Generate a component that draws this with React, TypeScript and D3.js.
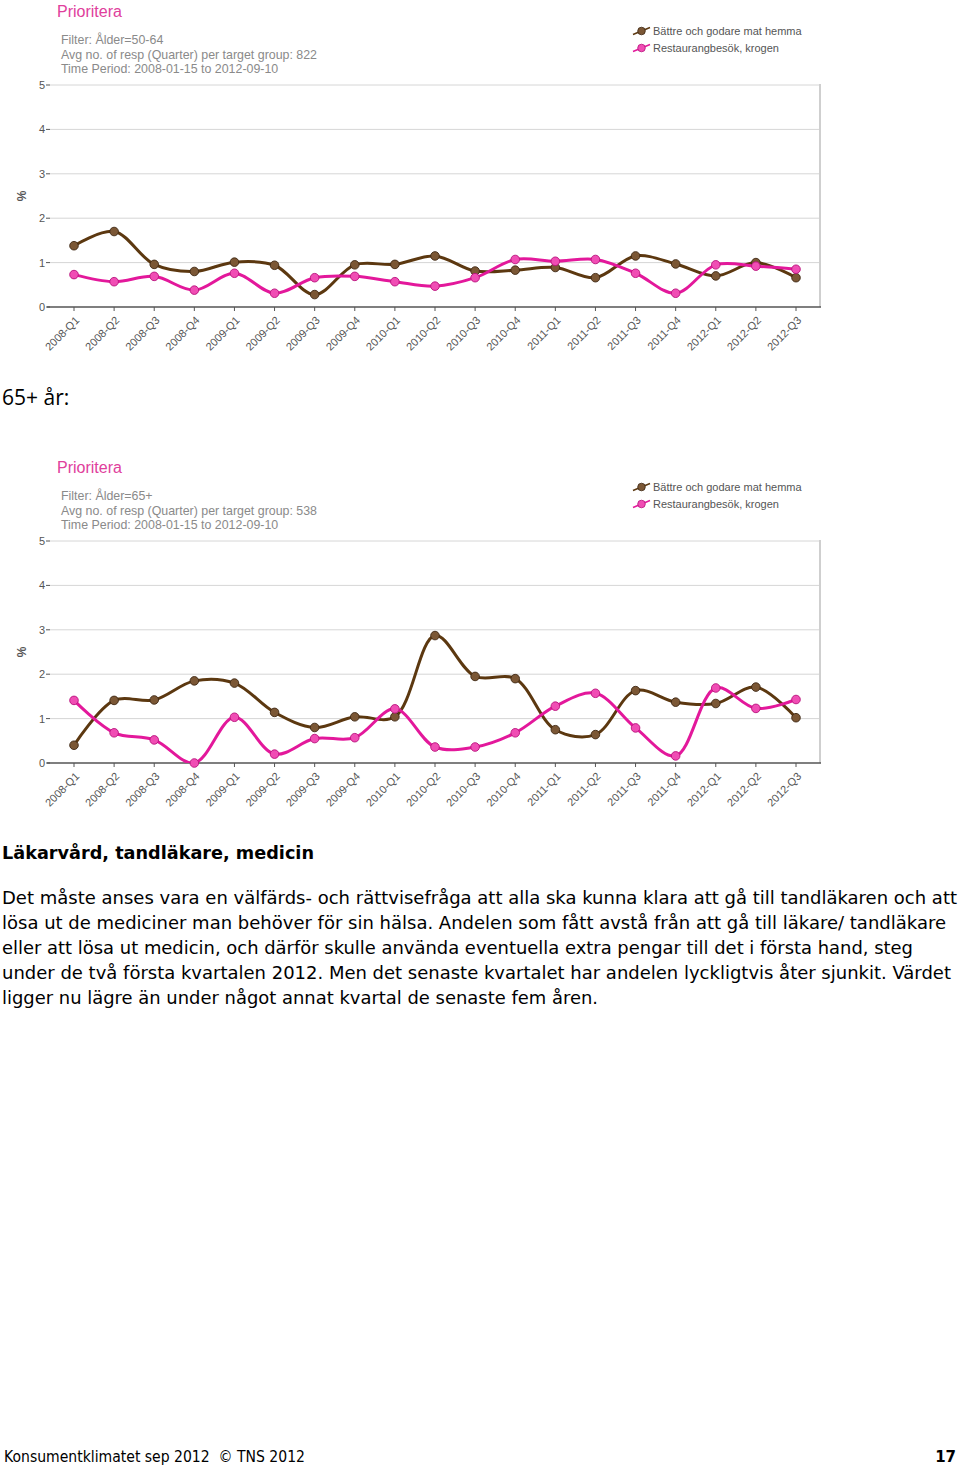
import React from 'react';
import * as d3 from 'd3';

const quarters = [
  '2008-Q1', '2008-Q2', '2008-Q3', '2008-Q4',
  '2009-Q1', '2009-Q2', '2009-Q3', '2009-Q4',
  '2010-Q1', '2010-Q2', '2010-Q3', '2010-Q4',
  '2011-Q1', '2011-Q2', '2011-Q3', '2011-Q4',
  '2012-Q1', '2012-Q2', '2012-Q3',
];
const yTicks = [0, 1, 2, 3, 4, 5];
const seriesNames = ['Bättre och godare mat hemma', 'Restaurangbesök, krogen'];

const betterFood5064 = [1.38, 1.70, 0.96, 0.80, 1.01, 0.94, 0.28, 0.95, 0.96, 1.15, 0.81, 0.83, 0.89, 0.66, 1.15, 0.97, 0.70, 1.00, 0.66];
const restaurant5064 = [0.73, 0.57, 0.69, 0.38, 0.76, 0.31, 0.66, 0.69, 0.57, 0.47, 0.66, 1.07, 1.03, 1.07, 0.76, 0.31, 0.95, 0.92, 0.85];
const betterFood65 = [0.40, 1.41, 1.42, 1.85, 1.80, 1.14, 0.80, 1.04, 1.04, 2.87, 1.95, 1.90, 0.75, 0.64, 1.63, 1.37, 1.34, 1.71, 1.02];
const restaurant65 = [1.41, 0.68, 0.52, 0.0, 1.03, 0.20, 0.55, 0.57, 1.22, 0.36, 0.36, 0.68, 1.28, 1.57, 0.79, 0.16, 1.69, 1.23, 1.43];

const bodyLines = [
  'Det måste anses vara en välfärds- och rättvisefråga att alla ska kunna klara att gå till tandläkaren och att',
  'lösa ut de mediciner man behöver för sin hälsa. Andelen som fått avstå från att gå till läkare/ tandläkare',
  'eller att lösa ut medicin, och därför skulle använda eventuella extra pengar till det i första hand, steg',
  'under de två första kvartalen 2012. Men det senaste kvartalet har andelen lyckligtvis åter sjunkit. Värdet',
  'ligger nu lägre än under något annat kvartal de senaste fem åren.',
];
const bodyWidths = [955, 944, 911, 949, 596];

const COLORS = [
  { line: '#5c3810', fill: '#7b5735', stroke: '#3e2814' },
  { line: '#e3189b', fill: '#f04db4', stroke: '#b8127c' },
];

const AX = "'Liberation Sans', Arial, sans-serif";

function Chart({ dy, filter, resp, brown, pink, id }: any) {
  const x = d3.scalePoint<string>().domain(quarters).range([74, 796]);
  const y = d3.scaleLinear().domain([0, 5]).range([307 + dy, 85 + dy]);
  const line = d3
    .line<number>()
    .x((_, i) => x(quarters[i]) as number)
    .y((d) => y(d))
    .curve(d3.curveCatmullRom.alpha(0.5));
  const series = [brown, pink];
  const y0 = y(0);
  const y5 = y(5);
  return (
    <g>
      <defs>
        <clipPath id={id}>
          <rect x={50} y={y5} width={770} height={y0 - y5} />
        </clipPath>
      </defs>
      <text x={57} y={dy + 17} fill="#e0409c" fontSize={16} fontFamily={AX}>Prioritera</text>
      <text x={61} y={dy + 44} fill="#8a8a8a" fontSize={12.4} fontFamily={AX}>{filter}</text>
      <text x={61} y={dy + 59} fill="#8a8a8a" fontSize={12.4} fontFamily={AX}>{resp}</text>
      <text x={61} y={dy + 73} fill="#8a8a8a" fontSize={12.4} fontFamily={AX}>Time Period: 2008-01-15 to 2012-09-10</text>
      {seriesNames.map((n, i) => {
        const c = dy + 31 + 17 * i;
        return (
          <g key={n}>
            <line x1={633} y1={c + 3.5} x2={650} y2={c - 3.5} stroke={COLORS[i].line} strokeWidth={1.5} />
            <circle cx={641.5} cy={c} r={3.8} fill={COLORS[i].fill} stroke={COLORS[i].stroke} strokeWidth={0.8} />
            <text x={653} y={c + 4} fill="#555" fontSize={11} fontFamily={AX}>{n}</text>
          </g>
        );
      })}
      {yTicks.filter((t) => t > 0).map((t) => (
        <line key={t} x1={50} x2={820} y1={y(t)} y2={y(t)} stroke="#d6d6d6" strokeWidth={1} />
      ))}
      <line x1={820} x2={820} y1={y5 - 1} y2={y0} stroke="#cfcfcf" strokeWidth={2} />
      <line x1={47} x2={821} y1={y0} y2={y0} stroke="#555" strokeWidth={1.5} />
      {yTicks.map((t) => (
        <g key={t}>
          <text x={45} y={y(t) + 4} textAnchor="end" fill="#555" fontSize={11} fontFamily={AX}>{t}</text>
          <line x1={46} x2={50} y1={y(t)} y2={y(t)} stroke="#555" strokeWidth={1} />
        </g>
      ))}
      <text transform={`translate(26,${(y0 + y5) / 2}) rotate(-90)`} textAnchor="middle" fill="#555" fontSize={12} fontWeight="bold" fontFamily={AX}>%</text>
      {quarters.map((q) => {
        const xx = x(q) as number;
        return (
          <g key={q}>
            <line x1={xx} x2={xx} y1={y0} y2={y0 + 4} stroke="#555" strokeWidth={1} />
            <text transform={`translate(${xx + 6},${y0 + 14}) rotate(-45)`} textAnchor="end" fill="#555" fontSize={11} fontFamily={AX}>{q}</text>
          </g>
        );
      })}
      <g clipPath={`url(#${id})`}>
        {series.map((s, i) => (
          <path key={i} d={line(s) as string} fill="none" stroke={COLORS[i].line} strokeWidth={3} strokeLinejoin="round" />
        ))}
      </g>
      {series.map((s, i) => (
        <g key={i}>
          {s.map((v: number, j: number) => (
            <circle key={j} cx={x(quarters[j])} cy={y(v)} r={4.3} fill={COLORS[i].fill} stroke={COLORS[i].stroke} strokeWidth={0.9} />
          ))}
        </g>
      ))}
    </g>
  );
}

export default function App() {
  const BODY = "'DejaVu Sans', Verdana, sans-serif";
  return (
    <div style={{ position: 'absolute', left: 0, top: 0, width: 960, height: 1467 }}>
      <svg width={960} height={1467} style={{ display: 'block' }}>
        <rect width={960} height={1467} fill="#fff" />
        <Chart id="c1" dy={0} filter="Filter: Ålder=50-64" resp="Avg no. of resp (Quarter) per target group: 822" brown={betterFood5064} pink={restaurant5064} />
        <text x={2} y={405} fontSize={21} fontFamily="'Open Sans', sans-serif" fill="#000">65+ år:</text>
        <Chart id="c2" dy={456} filter="Filter: Ålder=65+" resp="Avg no. of resp (Quarter) per target group: 538" brown={betterFood65} pink={restaurant65} />
        <text x={2} y={859} fontSize={17} fontWeight="bold" fontFamily={BODY} fill="#000" textLength={312} lengthAdjust="spacingAndGlyphs">Läkarvård, tandläkare, medicin</text>
        {bodyLines.map((l, i) => (
          <text key={i} x={2} y={904 + 25 * i} fontSize={17} fontFamily={BODY} fill="#000" textLength={bodyWidths[i]} lengthAdjust="spacingAndGlyphs">{l}</text>
        ))}
        <text x={4} y={1462} fontSize={15} fontFamily={BODY} fill="#000" textLength={301} lengthAdjust="spacingAndGlyphs" style={{ whiteSpace: 'pre' }}>Konsumentklimatet sep 2012  © TNS 2012</text>
        <text x={956} y={1462} fontSize={15} fontWeight="bold" fontFamily={BODY} fill="#000" textAnchor="end">17</text>
      </svg>
    </div>
  );
}
